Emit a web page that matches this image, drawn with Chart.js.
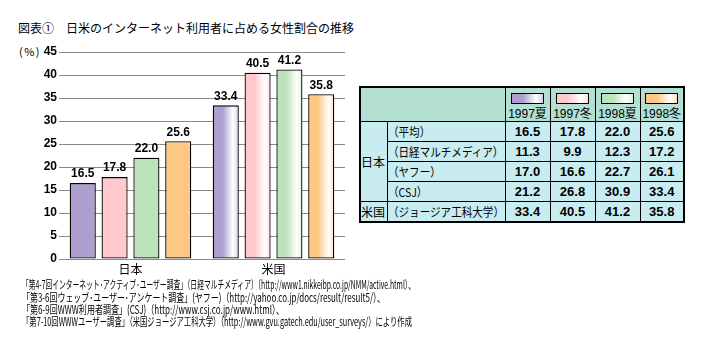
<!DOCTYPE html>
<html>
<head>
<meta charset="utf-8">
<script src="https://cdn.jsdelivr.net/npm/chart.js@4/dist/chart.umd.min.js"></script>
<style>
  html, body { margin: 0; padding: 0; background: #fff; width: 704px; height: 357px; overflow: hidden; }
  body { position: relative; font-family: "Noto Sans CJK JP", sans-serif; color: #000; }
  #title { position: absolute; left: 18px; top: 20px; font-size: 12px; line-height: 16px; white-space: nowrap; }
  #unit { position: absolute; left: 19px; top: 44px; font-size: 11px; line-height: 14px; white-space: nowrap; letter-spacing: 1.5px; }
  #wrap { position: absolute; left: 0; top: 40px; width: 350px; height: 243px; }
  #notes { position: absolute; left: 0; top: 276px; width: 704px; height: 60px; }
  #notes text { font-family: "Noto Sans CJK JP", sans-serif; font-size: 11.5px; fill: #000; }
  #tbl { position: absolute; left: 359px; top: 86px; width: 324px; table-layout: fixed; border-collapse: collapse; border: 2px solid #000; font-size: 12px; }
  #tbl td { border: 1px solid #000; padding: 0; height: 19px; line-height: 17px; background: #c9ecf1; overflow: hidden; white-space: nowrap; }
  #tbl td.num { text-align: center; font-family: "Liberation Sans Narrow", "Arial Narrow", "Liberation Sans", sans-serif; font-weight: bold; font-size: 13px; }
  #tbl td.hd { background: #b3e0d3; height: 33px; text-align: center; vertical-align: bottom; line-height: 14px; }
  #tbl td.corner { background: #b3e0d3; }
  .sw { display: block; width: 31px; height: 9px; border: 1px solid #000; margin: 0 auto 2px auto; }
  .yr { font-family: "Liberation Sans", sans-serif; font-size: 12px; }
  .lbl { text-align: left; font-size: 12px; }
  .sq { display: inline-block; transform: scaleX(0.88); transform-origin: 0 50%; }
</style>
</head>
<body>
<div id="title">図表①　日米のインターネット利用者に占める女性割合の推移</div>
<div id="unit">(%)</div>
<div id="wrap"><canvas id="c"></canvas></div>
<table id="tbl"></table>
<svg id="notes" xmlns="http://www.w3.org/2000/svg" width="704" height="60">
  <text x="22" y="13" textLength="393" lengthAdjust="spacingAndGlyphs">「第4-7回インターネット･アクティブ･ユーザー調査」（日経マルチメディア）（http://www1.nikkeibp.co.jp/NMM/active.html）、</text>
  <text x="22" y="25.5" textLength="363" lengthAdjust="spacingAndGlyphs">「第3-6回ウェッブ･ユーザー･アンケート調査」(ヤフー)（http://yahoo.co.jp/docs/result/result5/）、</text>
  <text x="22" y="37.5" textLength="262" lengthAdjust="spacingAndGlyphs">「第6-9回WWW利用者調査」(CSJ)（http://www.csj.co.jp/www.html）、</text>
  <text x="22" y="49.5" textLength="390" lengthAdjust="spacingAndGlyphs">「第7-10回WWWユーザー調査」（米国ジョージア工科大学）（http://www.gvu.gatech.edu/user_surveys/）により作成</text>
</svg>
<script>
// ---- data ----
const categories = ["日本", "米国"];
const seriesLabels = ["1997夏", "1997冬", "1998夏", "1998冬"];
const s1997summer = [16.5, 33.4];
const s1997winter = [17.8, 40.5];
const s1998summer = [22.0, 41.2];
const s1998winter = [25.6, 35.8];
const yTicks = [0, 5, 10, 15, 20, 25, 30, 35, 40, 45];

const tableGroups = ["日本", "日本", "日本", "日本", "米国"];
const tableRows = ["（平均）", "（日経マルチメディア）", "（ヤフー）", "（CSJ）", "（ジョージア工科大学）"];
const tableValues = [
  [16.5, 17.8, 22.0, 25.6],
  [11.3, 9.9, 12.3, 17.2],
  [17.0, 16.6, 22.7, 26.1],
  [21.2, 26.8, 30.9, 33.4],
  [33.4, 40.5, 41.2, 35.8]
];

// ---- styles ----
const baseColors = ["#ad9fcf", "#ffc9cb", "#bde3bb", "#fec784"];
const lightColors = ["#d4cbe8", "#ffe0e0", "#dcf1da", "#ffe0b8"];

// ---- table ----
(function buildTable(){
  const t = document.getElementById('tbl');
  let h = '<colgroup><col style="width:27px"><col style="width:118px"><col style="width:45px"><col style="width:45px"><col style="width:45px"><col style="width:44px"></colgroup>';
  h += '<tr><td class="corner" colspan="2"></td>';
  seriesLabels.forEach((s, i) => {
    h += '<td class="hd"><span class="sw" style="background:linear-gradient(to right,' + baseColors[i] + ' 0%,' + baseColors[i] + ' 35%,#fff 78%,' + lightColors[i] + ' 100%)"></span><span class="yr">' + s.slice(0,4) + '</span>' + s.slice(4) + '</td>';
  });
  h += '</tr>';
  tableRows.forEach((r, i) => {
    h += '<tr>';
    if (i === 0) h += '<td rowspan="4" class="lbl">' + tableGroups[0] + '</td>';
    if (i === 4) h += '<td class="lbl">' + tableGroups[4] + '</td>';
    h += '<td class="lbl"><span class="sq">' + r + '</span></td>';
    tableValues[i].forEach(v => { h += '<td class="num">' + v.toFixed(1) + '</td>'; });
    h += '</tr>';
  });
  t.innerHTML = h;
})();

// ---- chart ----
const gradientPlugin = {
  id: 'grad',
  beforeDatasetsDraw(chart) {
    const c = chart.ctx;
    chart.data.datasets.forEach((ds, di) => {
      const meta = chart.getDatasetMeta(di);
      meta.data.forEach(el => {
        const w = el.width, x0 = el.x - w / 2;
        const g = c.createLinearGradient(x0, 0, x0 + w, 0);
        g.addColorStop(0, baseColors[di]);
        g.addColorStop(0.38, baseColors[di]);
        g.addColorStop(0.78, '#ffffff');
        g.addColorStop(1, lightColors[di]);
        el.options.backgroundColor = g;
      });
    });
  }
};
const labelPlugin = {
  id: 'vals',
  afterDatasetsDraw(chart) {
    const c = chart.ctx;
    c.save();
    c.font = 'bold 12px "Liberation Sans Narrow", "Arial Narrow", "Liberation Sans", sans-serif';
    c.fillStyle = '#000';
    c.textAlign = 'center';
    c.textBaseline = 'bottom';
    chart.data.datasets.forEach((ds, di) => {
      chart.getDatasetMeta(di).data.forEach((el, i) => {
        c.fillText(ds.data[i].toFixed(1), el.x, el.y - 3);
      });
    });
    c.restore();
  }
};

const seriesData = [s1997summer, s1997winter, s1998summer, s1998winter];
new Chart(document.getElementById('c'), {
  type: 'bar',
  data: {
    labels: categories,
    datasets: seriesData.map((d, i) => ({
      label: seriesLabels[i],
      data: d,
      backgroundColor: baseColors[i],
      borderColor: '#000',
      borderWidth: 1.3,
      borderSkipped: false,
      categoryPercentage: 0.89,
      barPercentage: 0.82
    }))
  },
  options: {
    responsive: true,
    maintainAspectRatio: false,
    animation: false,
    events: [],
    layout: { padding: { top: 12, right: 5, left: 0, bottom: 0 } },
    plugins: { legend: { display: false }, tooltip: { enabled: false } },
    scales: {
      x: {
        grid: { display: false, drawTicks: false },
        border: { display: false },
        ticks: { color: '#000', font: { family: '"Noto Sans CJK JP", sans-serif', size: 12, lineHeight: 1.2 }, padding: 3 },
        afterFit(s) { s.height = 24; }
      },
      y: {
        min: 0, max: 45,
        afterBuildTicks(s) { s.ticks = yTicks.map(v => ({ value: v })); },
        grid: { color: '#8a8a8a', lineWidth: 1, drawTicks: false },
        border: { display: false },
        ticks: { color: '#000', padding: 2, font: { family: '"Liberation Sans Narrow", "Arial Narrow", "Liberation Sans", sans-serif', size: 12, weight: 'bold' } },
        afterFit(s) { s.width = 59; }
      }
    }
  },
  plugins: [gradientPlugin, labelPlugin]
});
</script>
</body>
</html>
